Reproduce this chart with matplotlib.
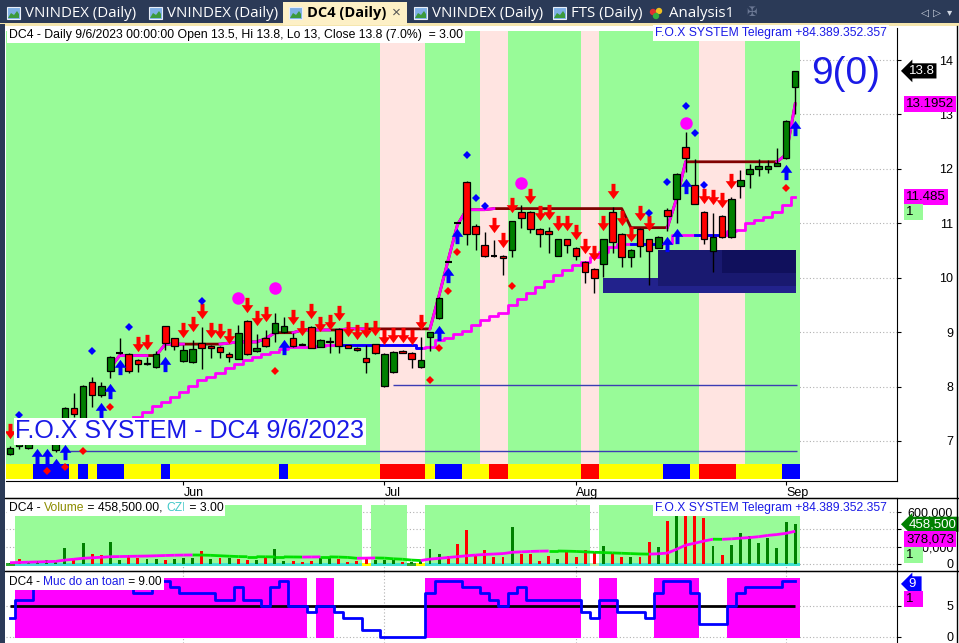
import numpy as np
import matplotlib.pyplot as plt
from matplotlib.path import Path
from matplotlib.patches import Rectangle, Polygon, Circle
from matplotlib.collections import LineCollection
from matplotlib.transforms import ScaledTranslation, blended_transform_factory

plt.rcParams['font.family'] = ['Liberation Sans', 'DejaVu Sans']

W, H = 959, 643

# Price data, DC4 daily (early May .. 6 Sep 2023)
opens = [6.77, 6.90, 6.87, 6.98, 7.00, 6.83, 7.20, 7.61, 7.40, 8.08,
         7.85, 8.29, 8.62, 8.60, 8.49, 8.42, 8.36, 9.11, 8.89, 8.47,
         8.45, 8.80, 8.75, 8.73, 8.60, 8.51, 9.21, 8.65, 8.89, 8.99,
         9.00, 8.89, 8.79, 9.10, 8.73, 8.82, 9.06, 8.76, 8.71, 8.53,
         8.78, 8.01, 8.27, 8.65, 8.62, 8.36, 8.91, 9.26, 10.29, 11.01,
         11.76, 10.95, 10.60, 10.39, 10.40, 10.51, 11.21, 11.21, 10.90, 10.86,
         10.40, 10.71, 10.55, 10.29, 10.16, 10.25, 11.21, 10.81, 10.38, 10.90,
         10.71, 10.55, 11.25, 11.45, 12.40, 11.71, 11.21, 10.49, 11.14, 10.75,
         11.69, 11.91, 12.00, 12.00, 12.06, 12.20, 13.50]
highs = [6.90, 7.00, 7.02, 7.10, 7.15, 7.22, 7.62, 7.88, 8.03, 8.18,
         8.08, 8.56, 8.89, 8.62, 8.50, 8.54, 8.65, 9.12, 8.90, 8.76,
         8.86, 9.10, 8.76, 8.74, 8.64, 9.13, 9.22, 8.97, 9.04, 9.35,
         9.28, 8.99, 8.80, 9.11, 8.87, 8.91, 9.07, 8.77, 8.72, 8.76,
         8.79, 8.62, 8.66, 8.67, 8.63, 8.91, 9.01, 9.65, 10.29, 11.01,
         11.77, 10.99, 10.84, 10.69, 10.41, 11.05, 11.34, 11.22, 10.91, 10.93,
         10.72, 10.72, 10.56, 10.30, 10.17, 10.72, 11.30, 10.82, 10.52, 10.91,
         10.72, 10.76, 11.29, 11.92, 12.68, 12.18, 11.22, 11.19, 11.15, 11.49,
         11.98, 12.09, 12.18, 12.17, 12.39, 12.90, 13.80]
lows = [6.75, 6.86, 6.85, 6.97, 6.98, 6.79, 7.05, 7.45, 7.35, 7.62,
        7.81, 8.16, 8.60, 8.25, 8.27, 8.39, 8.34, 8.67, 8.67, 8.45,
        8.43, 8.32, 8.53, 8.53, 8.45, 8.50, 8.58, 8.64, 8.73, 8.82,
        8.98, 8.73, 8.76, 8.70, 8.72, 8.62, 8.62, 8.70, 8.66, 8.25,
        8.60, 8.00, 8.25, 8.61, 8.34, 8.34, 8.65, 9.24, 10.29, 11.01,
        10.60, 10.51, 10.38, 10.38, 10.05, 10.38, 10.92, 10.82, 10.57, 10.46,
        10.39, 10.46, 10.33, 9.90, 9.72, 10.01, 10.46, 10.20, 10.20, 10.38,
        9.87, 10.54, 10.86, 11.01, 11.94, 11.35, 10.62, 10.11, 10.73, 10.73,
        11.47, 11.65, 11.87, 11.93, 12.05, 12.19, 13.00]
closes = [6.88, 6.98, 7.00, 7.08, 7.10, 7.20, 7.61, 7.50, 8.01, 7.85,
          8.01, 8.54, 8.62, 8.29, 8.42, 8.43, 8.60, 8.80, 8.75, 8.67,
          8.69, 8.71, 8.71, 8.64, 8.54, 8.99, 8.60, 8.71, 8.75, 9.17,
          9.11, 8.75, 8.77, 8.71, 8.86, 8.83, 8.75, 8.71, 8.67, 8.45,
          8.62, 8.60, 8.64, 8.62, 8.51, 8.49, 9.00, 9.63, 10.29, 11.01,
          10.81, 10.81, 10.40, 10.39, 10.36, 11.04, 11.10, 10.90, 10.81, 10.81,
          10.71, 10.60, 10.40, 10.11, 10.00, 10.71, 10.66, 10.38, 10.51, 10.58,
          10.49, 10.75, 11.14, 11.91, 12.20, 11.36, 10.71, 10.75, 10.75, 11.45,
          11.80, 12.00, 12.06, 12.06, 12.11, 12.88, 13.80]

month_bars = [19, 41, 62, 85]
month_names = ['Jun', 'Jul', 'Aug', 'Sep']

nan = np.nan
# upper trailing line (brown when flat, magenta when rising)
upper_line = [nan] * 11 + [8.35, 8.57, 8.57, 8.57, 8.57, 8.57, 8.78, 8.78, 8.78,
              8.78, 8.78, 8.78, 8.78, 8.80, 8.82, 8.82, 8.82, 8.88, 8.99,
              8.99, 8.99, 9.04, 9.04, 9.04, 9.04, 9.04, 9.06, 9.06, 9.06,
              9.06, 9.06, 9.06, 9.06, 9.06, 9.06, 9.06, 9.68, 10.33, 10.97,
              11.25, 11.25, 11.25, 11.27, 11.27, 11.27, 11.27, 11.27, 11.27, 11.27,
              11.27, 11.27, 11.27, 11.27, 11.27, 11.27, 11.27, 11.27, 10.92, 10.92,
              10.92, 10.92, 10.92, 11.45, 12.13, 12.13, 12.13, 12.13, 12.13, 12.13,
              12.13, 12.13, 12.13, 12.13, 12.13, 12.26, 13.1952]
upper_rising = [(11, 15), (16, 19), (23, 29), (31, 35), (36, 39), (46, 53), (72, 74), (84, 86)]

# lower stepped stop line
lower_line = [nan] * 14 + [7.44, 7.53, 7.64, 7.72, 7.81, 7.90,
              8.01, 8.12, 8.18, 8.25, 8.34, 8.42, 8.49, 8.54, 8.60, 8.64,
              8.69, 8.73, 8.73, 8.73, 8.75, 8.76, 8.76, 8.76, 8.76, 8.76,
              8.76, 8.76, 8.76, 8.76, 8.76, 8.71, 8.73, 8.86, 8.89, 8.97,
              9.02, 9.13, 9.22, 9.30, 9.35, 9.50, 9.61, 9.72, 9.83, 9.94,
              10.05, 10.14, 10.24, 10.29, 10.38, 10.47, 10.57, 10.62, 10.62, 10.62,
              10.62, 10.62, 10.64, 10.79, 10.79, 10.79, 10.79, 10.79, 10.79, 10.85,
              10.88, 11.00, 11.06, 11.12, 11.21, 11.34, 11.485]
lower_blue = [(36, 45), (68, 71), (75, 78)]

support_levels = [6.82, 8.03]
support_from = [6, 42]

# order blocks: (first bar, last bar, low, high)
zones = [(64.9, 86.1, 9.72, 10.00), (71.0, 86.1, 9.85, 10.51), (78.0, 86.1, 10.09, 10.51)]

sell_bars = [0, 14, 15, 19, 20, 21, 22, 23, 24, 26, 27, 28, 31, 32, 33, 34, 35, 36, 37,
             38, 39, 40, 41, 42, 43, 44, 45, 53, 54, 55, 57, 58, 59, 60, 61, 62, 63,
             64, 65, 66, 67, 68, 69, 70, 76, 77, 78, 79]
buy_bars = [3, 4, 5, 6, 10, 11, 12, 17, 30, 47, 48, 49, 72, 73, 74, 85, 86]
top_dots = [1, 9, 13, 21, 50, 51, 52, 70, 72, 74, 75, 76]
bottom_dots = [4, 6, 8, 11, 29, 46, 47, 48, 49, 55, 85]
peak_bars = [25, 29, 56, 74]
peak_prices = [9.63, 9.81, 11.74, 12.85]

regime = ("GGGGGGGGGG" "GGGGGGGGGG" "GGGGGGGGGG" "GGGGGGGGGG" "GPPPPPGGGG"
          "GGPPPGGGGG" "GGGPPGGGGG" "GGGGGGPPPP" "PGGGGGG")
ribbon = ("YYYBBBBYBY" "BBBYYYYBYY" "YYYYYYYYYY" "BYYYYYYYYY" "YRRRRRYBBB"
          "YYYRRYYYYY" "YYYRRYYYYY" "YYBBBYRRRR" "YYYYYBB")

# volume pane
volume_k = [10, 57, 23, 34, 46, 23, 183, 57, 240, 114,
            103, 251, 46, 103, 69, 57, 57, 46, 57, 69,
            69, 149, 57, 69, 69, 57, 46, 46, 80, 171,
            34, 34, 23, 34, 69, 69, 57, 23, 34, 80,
            46, 46, 46, 23, 20, 34, 171, 114, 91, 228,
            389, 103, 160, 80, 80, 423, 114, 114, 34, 91,
            57, 137, 80, 160, 137, 206, 126, 80, 80, 80,
            251, 194, 491, 549, 571, 571, 526, 206, 103, 217,
            354, 320, 240, 297, 183, 480, 458.5]
volume_dir = ("grgggggrgr" "rggrrggrgg" "grgrgrrgrg" "grrrggrrrr" "gggrggggrr"
              "rrrrrgrrrr" "grrrrgrrgr" "rgrgrrrgrg" "ggggggg")
volume_ma_k = [15, 18, 21, 24, 27, 30, 45, 55, 66, 72,
               78, 84, 86, 88, 90, 92, 95, 98, 101, 103,
               104, 103, 100, 95, 90, 86, 84, 84, 83, 82,
               82, 81, 80, 81, 82, 82, 80, 76, 66, 68,
               70, 68, 60, 55, 45, 40, 57, 65, 75, 85,
               95, 103, 110, 115, 120, 135, 140, 145, 148, 150,
               150, 148, 145, 140, 135, 132, 128, 124, 120, 116,
               114, 118, 126, 170, 217, 240, 265, 286, 285, 290,
               298, 305, 315, 330, 340, 354, 378.073]
volume_band = ("WGGGGGGGGG" "GGGGGGGGGG" "GGGGGGGGGG" "GGGGGGGGGW" "GGGGWWGGGG"
               "GGGGGGGGGG" "GGGGWGGGGG" "GGGGGGGGGG" "GGGGGGG")
czi_strip = ("gttttttttt" "tttttttttt" "tttttttttt" "ttttttttty" "ttttgytttt"
             "tttttttttt" "ttttlttttt" "tttttttttt" "ttttttt")

# safety level pane ("Muc do an toan")
safety = [3, 6, 6, 9, 9, 9, 9, 9, 9, 9,
          9, 9, 9, 9, 7, 7, 9, 9, 8, 7,
          7, 7, 7, 6, 6, 8, 6, 6, 5, 8,
          9, 5, 5, 4, 5, 5, 4, 3, 3, 1,
          1, 0, 0, 0, 0, 0, 7, 9, 9, 9,
          8, 8, 7, 6, 5, 7, 8, 6, 6, 6,
          6, 6, 6, 4, 3, 6, 6, 4, 4, 4,
          3, 7, 9, 9, 9, 7, 2, 2, 2, 5,
          7, 8, 8, 8, 8, 9, 9]

x = np.arange(len(closes))
o, h, l, c = map(np.array, (opens, highs, lows, closes))
upper = np.array(upper_line)
lower = np.array(lower_line)
vol = np.array(volume_k) * 1000
vol_ma = np.array(volume_ma_k) * 1000
safety = np.array(safety)

NAVY = '#2b3a57'
MAGENTA = '#ff00ff'
BLUE_TXT = '#1a1ae6'
BAND = {'G': '#98fb98', 'P': '#ffe4e1'}
RIB = {'Y': '#ffff00', 'B': '#0000ff', 'R': '#ff0000'}
STRIP = {'t': '#40e0d0', 'g': '#2eaa2e', 'y': '#ffff00', 'l': '#b4f0b4'}


def runs(codes):
    out, start = [], 0
    for i in range(1, len(codes) + 1):
        if i == len(codes) or codes[i] != codes[start]:
            out.append((start, i - 1, codes[start]))
            start = i
    return out


fig = plt.figure(figsize=(W / 100, H / 100), dpi=100)


def pane(top, bottom):
    return fig.add_axes([6 / W, 1 - bottom / H, 891 / W, (bottom - top) / H])


def shifted(a, dy):
    return a.transData + ScaledTranslation(0, dy / 100, fig.dpi_scale_trans)


def tag(a, value, text, fc, tc, dy=0, arrow=False):
    tr = blended_transform_factory(fig.transFigure, a.transData) + \
        ScaledTranslation(0, dy / 100, fig.dpi_scale_trans)
    box = dict(boxstyle='larrow,pad=0.12' if arrow else 'square,pad=0.15', fc=fc, ec='none')
    a.text((909 if arrow else 906) / W, value, text, transform=tr, ha='left', va='center',
           fontsize=9.5, color=tc, bbox=box, clip_on=False, zorder=20)


def style_pane(a, ylim, ticks, labels):
    a.set_xlim(-0.44, 97.15)
    a.set_ylim(*ylim)
    a.yaxis.tick_right()
    a.set_yticks(ticks)
    a.set_yticklabels(labels)
    a.tick_params(axis='y', direction='out', length=3, pad=37.5, labelsize=9, width=0.8)
    for lbl in a.get_yticklabels():
        lbl.set_horizontalalignment('right')
    a.spines['left'].set_visible(False)
    for t in ticks:
        a.axhline(t, color='#b0b0b0', ls=(0, (1, 2)), lw=0.8, zorder=0)


def title(px, py, parts, size=9):
    renderer = fig.canvas.get_renderer()
    xx = px
    for s, col in parts:
        t = fig.text(xx / W, 1 - py / H, s, color=col, fontsize=size, ha='left', va='center',
                     bbox=dict(fc='white', ec='none', pad=1.2), zorder=30)
        xx += t.get_window_extent(renderer).width


# ---------------- main price pane ----------------
ax = pane(28, 481)
style_pane(ax, (6.265, 14.588), list(range(7, 15)), [str(v) for v in range(7, 15)])
ax.spines['top'].set_visible(False)
ax.set_xticks(month_bars)
ax.set_xticklabels(month_names)
ax.tick_params(axis='x', direction='out', length=3, pad=1.5, labelsize=9, width=0.8)
for lbl in ax.get_xticklabels():
    lbl.set_horizontalalignment('left')

for s, e, code in runs(regime):
    ax.axvspan(s - 0.5, e + 0.5, ymin=0.0375, ymax=0.9935, color=BAND[code], lw=0, zorder=1)
for s, e, code in runs(ribbon):
    ax.axvspan(s - 0.5, e + 0.5, ymin=0.004, ymax=0.0375, color=RIB[code], lw=0, zorder=2)

zone_cols = ['#22228c', '#191970', '#10105c']
for (b0, b1, lo, hi), zc in zip(zones, zone_cols):
    ax.add_patch(Rectangle((b0, lo), b1 - b0, hi - lo, fc=zc, ec='none', zorder=2.2))

for lev, b0 in zip(support_levels, support_from):
    ax.hlines(lev, b0, 86.2, color='#3c3cb4', lw=1, zorder=2.5)

ax.plot(x, lower, drawstyle='steps-mid', color=MAGENTA, lw=2, zorder=3)
for a0, a1 in lower_blue:
    ax.plot(x[a0:a1 + 1], lower[a0:a1 + 1], drawstyle='steps-mid', color='#0000ff', lw=2, zorder=3.1)
ax.plot(x, upper, color='#800000', lw=2, zorder=3)
for a0, a1 in upper_rising:
    ax.plot(x[a0:a1 + 1], upper[a0:a1 + 1], color=MAGENTA, lw=2, zorder=3.1)

# candles
ax.vlines(x, l, h, color='black', lw=1, zorder=4)
up = c > o
dn = c < o
flat = c == o
ax.bar(x[up], (c - o)[up], 0.72, bottom=o[up], color='#008000', edgecolor='black', lw=0.9, zorder=4.1)
ax.bar(x[dn], (o - c)[dn], 0.72, bottom=c[dn], color='#ff0000', edgecolor='black', lw=0.9, zorder=4.1)
ax.hlines(c[flat], x[flat] - 0.36, x[flat] + 0.36, color='black', lw=1.5, zorder=4.1)

down_arrow = Path([(-0.13, 0.5), (0.13, 0.5), (0.13, 0.02), (0.38, 0.02), (0, -0.5),
                   (-0.38, 0.02), (-0.13, 0.02), (-0.13, 0.5)], closed=True)
up_arrow = Path([(vx, -vy) for vx, vy in down_arrow.vertices], closed=True)
ax.plot(sell_bars, h[sell_bars], ls='none', marker=down_arrow, ms=11, mew=0, color='#ff0000',
        transform=shifted(ax, 15.5), zorder=5)
ax.plot(buy_bars, l[buy_bars], ls='none', marker=up_arrow, ms=11, mew=0, color='#0000ff',
        transform=shifted(ax, -13.5), zorder=5)
ax.plot(top_dots, h[top_dots], ls='none', marker='D', ms=4, mew=0, color='#0000ff',
        transform=shifted(ax, 26), zorder=5)
ax.plot(bottom_dots, l[bottom_dots], ls='none', marker='D', ms=4, mew=0, color='#ff0000',
        transform=shifted(ax, -29), zorder=5)
ax.plot(peak_bars, peak_prices, ls='none', marker='o', ms=9, mew=0, color=MAGENTA, zorder=5)

ax.text(0.55, 7.18, 'F.O.X SYSTEM - DC4 9/6/2023', fontsize=18, color=BLUE_TXT, ha='left',
        va='center', bbox=dict(fc='white', ec='none', pad=1.0), zorder=8)
tr = blended_transform_factory(fig.transFigure, ax.transData)
ax.text(846 / W, 13.75, '9(0)', transform=tr, fontsize=28, color=BLUE_TXT, ha='center',
        va='center', zorder=8)

tag(ax, c[-1], '13.8', 'black', 'white', arrow=True)
tag(ax, upper[-1], '13.1952', MAGENTA, 'black')
tag(ax, lower[-1], '11.485', MAGENTA, 'black')
tag(ax, lower[-1], '1  ', BAND['G'], 'black', dy=-15)

# ---------------- volume pane ----------------
axv = pane(498, 571)
style_pane(axv, (-80800, 761500), [0, 200000, 400000, 600000],
           ['0', '200,000', '', '600,000'])
axv.spines['bottom'].set_visible(False)
axv.tick_params(axis='x', bottom=False, labelbottom=False)
for b in month_bars:
    axv.axvline(b, color='#b0b0b0', ls=(0, (1, 2)), lw=0.8, zorder=0)
for s, e, code in runs(volume_band):
    if code == 'G':
        axv.add_patch(Rectangle((s - 0.5, 0), e - s + 1, 680000, fc=BAND['G'], ec='none', zorder=1))
for s, e, code in runs(czi_strip):
    axv.add_patch(Rectangle((s - 0.5, -23000), e - s + 1, 35000, fc=STRIP[code], ec='none', zorder=2))
vcols = ['#008000' if d == 'g' else '#ff0000' for d in volume_dir]
axv.bar(x, vol, 0.32, color=vcols, lw=0, zorder=3)
segs = [[(x[i - 1], vol_ma[i - 1]), (x[i], vol_ma[i])] for i in range(1, len(x))]
seg_cols = [MAGENTA if vol_ma[i] > vol_ma[i - 1] else '#00e000' for i in range(1, len(x))]
axv.add_collection(LineCollection(segs, colors=seg_cols, lw=2, zorder=4))

tag(axv, vol[-1], '458,500', '#008000', 'white', arrow=True)
tag(axv, vol_ma[-1], '378,073', MAGENTA, 'black', dy=-8)
tag(axv, vol_ma[-1], '1  ', BAND['G'], 'black', dy=-24)

# ---------------- safety pane ----------------
axm = pane(571, 643)
style_pane(axm, (-1.02, 10.6), [0, 5], ['0', '5'])
axm.spines['bottom'].set_visible(False)
axm.tick_params(axis='x', bottom=False, labelbottom=False)
for b in month_bars:
    axm.axvline(b, color='#b0b0b0', ls=(0, (1, 2)), lw=0.8, zorder=0)
for s, e, code in runs(''.join('S' if v >= 5 else 'N' for v in safety)):
    if code == 'S':
        axm.add_patch(Rectangle((s - 0.5, -0.2), e - s + 1, 9.67, fc=MAGENTA, ec='none', zorder=1))
axm.hlines(5, 0, 86, color='black', lw=2, zorder=2)
axm.plot(x, safety, drawstyle='steps-mid', color='#0000ff', lw=2, zorder=3)
tag(axm, safety[-1], '9 ', '#0000ff', 'white', dy=-3, arrow=True)
tag(axm, safety[-1], '1  ', MAGENTA, 'black', dy=-18)

# ---------------- window chrome ----------------
ui = fig.add_axes([0, 0, 1, 1], zorder=10)
ui.set_xlim(0, W)
ui.set_ylim(H, 0)
ui.axis('off')
ui.add_patch(Rectangle((0, 0), W, 24, fc=NAVY, ec='none'))
ui.add_patch(Rectangle((0, 23), W, 3, fc='#f5e6ae', ec='none'))
ui.add_patch(Rectangle((0, 24), 5, H, fc=NAVY, ec='none'))
ui.add_patch(Rectangle((283, 2), 124, 23, fc='#fdf0c6', ec='none'))
ui.plot([5, W], [498, 498], color='black', lw=1)
ui.plot([5, W], [571, 571], color='black', lw=1)
ui.plot([957, 957], [26, H], color='black', lw=1)

tabs = [(7, 'VNINDEX (Daily)'), (149, 'VNINDEX (Daily)'), (289, 'DC4 (Daily)'),
        (414, 'VNINDEX (Daily)'), (553, 'FTS (Daily)')]
for ix, name in tabs:
    ui.add_patch(Rectangle((ix, 7), 13, 12, fc='#7fb0e6', ec='#e8eef8', lw=0.8))
    ui.add_patch(Polygon([(ix + 1, 18), (ix + 4, 13), (ix + 7, 15), (ix + 10, 11), (ix + 12, 14),
                          (ix + 12, 18)], closed=True, fc='#3c9a3c', ec='none'))
    active = name.startswith('DC4')
    ui.text(ix + 18, 13.5, name, fontsize=10.5 if active else 10.8, va='center', ha='left',
            color='black' if active else 'white', fontweight='bold' if active else 'normal',
            family=['Open Sans', 'DejaVu Sans'])
ui.text(396, 13, '\u00d7', fontsize=11, va='center', ha='center', color='#555555')
for dxx, dyy, col in [(653, 12, '#e03030'), (659, 11, '#f0c020'), (656, 16, '#30b040')]:
    ui.add_patch(Circle((dxx, dyy), 3.2, fc=col, ec='none'))
ui.text(669, 13.5, 'Analysis1', fontsize=10.8, va='center', ha='left', color='white',
        family=['Open Sans', 'DejaVu Sans'])
ui.text(752, 12.5, '\u2720', fontsize=9, va='center', ha='center', color='#6b7894',
        family=['DejaVu Sans'])
for px_, ch in [(925, '\u25c1'), (937, '\u25b7'), (950, '\u25be')]:
    ui.text(px_, 12.5, ch, fontsize=7.5, va='center', ha='center', color='#d0d6e2',
            family=['DejaVu Sans'])

title(9, 35, [('DC4 - Daily 9/6/2023 00:00:00 Open 13.5, Hi 13.8, Lo 13, Close 13.8 (7.0%)  = 3.00', 'black')],
      size=8.8)
title(655, 33, [('F.O.X SYSTEM Telegram +84.389.352.357', BLUE_TXT)], size=8.7)
title(9, 508, [('DC4 - ', 'black'), ('Volume', '#8c8c00'), (' = 458,500.00, ', 'black'),
               ('CZI', '#40c8c8'), (' = 3.00', 'black')], size=8.7)
title(655, 508, [('F.O.X SYSTEM Telegram +84.389.352.357', BLUE_TXT)], size=8.7)
title(9, 582, [('DC4 - ', 'black'), ('Muc do an toan', BLUE_TXT), (' = 9.00', 'black')], size=8.6)

fig.savefig('out.png', dpi=100)
